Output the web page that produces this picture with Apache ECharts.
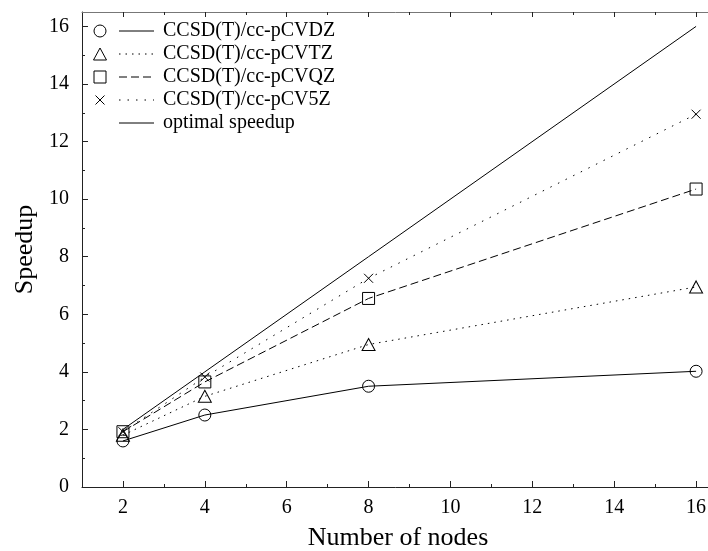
<!DOCTYPE html>
<html>
<head>
<meta charset="utf-8">
<script src="https://cdn.jsdelivr.net/npm/echarts@6/dist/echarts.min.js"></script>
<style>html,body{margin:0;padding:0;background:#fff;}#c{width:708px;height:551px;}</style>
</head>
<body>
<div id="c"></div>
<script>
// ---- data ----
var nodes = [2, 4, 8, 16];
var seriesNames = ['CCSD(T)/cc-pCVDZ', 'CCSD(T)/cc-pCVTZ', 'CCSD(T)/cc-pCVQZ', 'CCSD(T)/cc-pCV5Z', 'optimal speedup'];
var dz = [1.6, 2.5, 3.5, 4.02];
var tz = [1.8, 3.15, 4.95, 6.95];
var qz = [1.92, 3.65, 6.55, 10.35];
var v5z = [1.92, 3.82, 7.25, 12.95];
var optimal = [2, 4, 8, 16];
var xMajor = [2, 4, 6, 8, 10, 12, 14, 16];
var xMinor = [3, 5, 7, 9, 11, 13, 15];
var yMajor = [0, 2, 4, 6, 8, 10, 12, 14, 16];
var yMinor = [1, 3, 5, 7, 9, 11, 13, 15];

var FONT = 'Liberation Serif';
var AX = '#222';
var crossPath = 'path://M0,0L10,10M10,0L0,10';

function pts(ys) { return nodes.map(function (x, i) { return [x, ys[i]]; }); }

var chart = echarts.init(document.getElementById('c'), null, {renderer: 'canvas'});

function xAxisDef(grid, pos, ticks, len, showLine, showLabel, lineColor, name) {
  return {
    gridIndex: grid,
    type: 'value', position: pos, min: 1, max: 16.34, interval: 1,
    name: name || '', nameLocation: 'middle', nameGap: 38,
    nameTextStyle: {fontFamily: FONT, fontSize: 26, color: '#000', padding: [0, 0, 0, 4]},
    axisLine: {show: showLine, onZero: false, lineStyle: {color: lineColor, width: 1}},
    axisTick: {show: true, inside: true, length: len, customValues: ticks, lineStyle: {color: AX}},
    axisLabel: {show: showLabel, customValues: xMajor, fontFamily: FONT, fontSize: 20, color: '#000', margin: 11},
    splitLine: {show: false}
  };
}
function yAxisDef(grid, ticks, len, showLine, showLabel, name) {
  return {
    gridIndex: grid,
    type: 'value', position: 'left', min: 0, max: 16.5, interval: 2,
    name: name || '', nameLocation: 'middle', nameGap: 44,
    nameTextStyle: {fontFamily: FONT, fontSize: 26, color: '#000'},
    axisLine: {show: showLine, onZero: false, lineStyle: {color: AX, width: 1}},
    axisTick: {show: true, inside: true, length: len, customValues: ticks, lineStyle: {color: AX}},
    axisLabel: {show: showLabel, customValues: yMajor, fontFamily: FONT, fontSize: 20, color: '#000', margin: 13},
    splitLine: {show: false}
  };
}

var symStyle = {color: 'none', borderColor: '#000', borderWidth: 1};
var gridPos = {left: 82, right: -2, top: 12, bottom: 64, containLabel: false, outerBoundsMode: 'none'};

var option = {
  animation: false,
  backgroundColor: '#fff',
  grid: [Object.assign({}, gridPos), Object.assign({}, gridPos)],
  xAxis: [
    xAxisDef(0, 'bottom', xMajor, 6, true, true, AX, 'Number of nodes'),
    xAxisDef(0, 'top', xMajor, 5, true, false, '#777'),
    xAxisDef(1, 'bottom', xMinor, 3, false, false, AX),
    xAxisDef(1, 'top', xMinor, 3, false, false, AX)
  ],
  yAxis: [
    yAxisDef(0, yMajor, 6, true, true, 'Speedup'),
    yAxisDef(1, yMinor, 3, false, false)
  ],
  series: [
    {name: seriesNames[4], type: 'line', xAxisIndex: 0, yAxisIndex: 0, data: pts(optimal), showSymbol: false, symbol: 'none',
     lineStyle: {color: '#000', width: 1, type: 'solid'}},
    {name: seriesNames[0], type: 'line', xAxisIndex: 0, yAxisIndex: 0, data: pts(dz), symbol: 'circle', symbolSize: 12,
     itemStyle: symStyle, lineStyle: {color: '#000', width: 1, type: 'solid'}},
    {name: seriesNames[1], type: 'line', xAxisIndex: 0, yAxisIndex: 0, data: pts(tz), symbol: 'triangle', symbolSize: [13, 12],
     itemStyle: symStyle, lineStyle: {color: '#000', width: 1, type: [1.5, 5]}},
    {name: seriesNames[2], type: 'line', xAxisIndex: 0, yAxisIndex: 0, data: pts(qz), symbol: 'rect', symbolSize: 12,
     itemStyle: symStyle, lineStyle: {color: '#000', width: 1, type: [8, 4]}},
    {name: seriesNames[3], type: 'line', xAxisIndex: 0, yAxisIndex: 0, data: pts(v5z), symbol: crossPath, symbolSize: 9,
     itemStyle: symStyle, lineStyle: {color: '#000', width: 1, type: [1.5, 7]}}
  ],
  graphic: []
};

// custom legend (gnuplot-style: symbol, line sample, text)
var lgX = 100, lgLine0 = 119, lgLine1 = 154, lgText = 163, lgY0 = 31, lgDy = 23;
var dashes = [null, [1.5, 5], [8, 4], [1.5, 7], null];
var g = [];
for (var i = 0; i < seriesNames.length; i++) {
  var cy = lgY0 + i * lgDy;
  if (i === 0) g.push({type: 'circle', shape: {cx: lgX, cy: cy, r: 6}, style: {fill: 'none', stroke: '#000', lineWidth: 1}});
  if (i === 1) g.push({type: 'polygon', shape: {points: [[lgX, cy - 6], [lgX + 6.5, cy + 6], [lgX - 6.5, cy + 6]]}, style: {fill: 'none', stroke: '#000', lineWidth: 1}});
  if (i === 2) g.push({type: 'rect', shape: {x: lgX - 6, y: cy - 6, width: 12, height: 12}, style: {fill: 'none', stroke: '#000', lineWidth: 1}});
  if (i === 3) g.push({type: 'polyline', shape: {points: [[lgX - 4.5, cy - 4.5], [lgX + 4.5, cy + 4.5]]}, style: {stroke: '#000', lineWidth: 1}},
                      {type: 'polyline', shape: {points: [[lgX + 4.5, cy - 4.5], [lgX - 4.5, cy + 4.5]]}, style: {stroke: '#000', lineWidth: 1}});
  g.push({type: 'line', shape: {x1: lgLine0, y1: cy, x2: lgLine1, y2: cy}, style: {stroke: '#000', lineWidth: 1, lineDash: dashes[i]}});
  g.push({type: 'text', x: lgText, y: cy, style: {text: seriesNames[i], font: '20px "' + FONT + '"', fill: '#000', verticalAlign: 'middle', textAlign: 'left'}});
}
option.graphic = g;

chart.setOption(option);
</script>
</body>
</html>
